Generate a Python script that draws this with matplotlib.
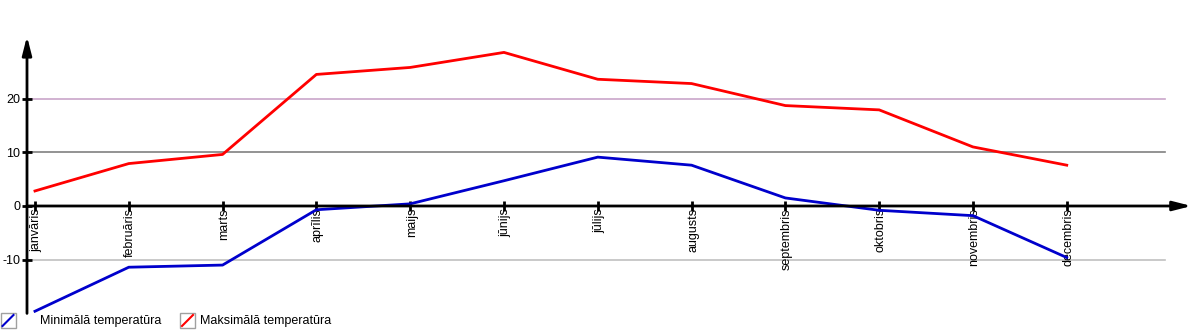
import matplotlib
matplotlib.use('Agg')
import matplotlib.pyplot as plt
import matplotlib.transforms as mtransforms
from matplotlib.patches import Rectangle
from matplotlib.lines import Line2D

plt.rcParams['font.family'] = ['Liberation Sans', 'DejaVu Sans']

months = ["janvāris", "februāris", "marts", "aprīlis", "maijs", "jūnijs",
          "jūlijs", "augusts", "septembris", "oktobris", "novembris", "decembris"]
min_temp = [-19.6, -11.4, -11.0, -0.7, 0.4, 4.7, 9.1, 7.6, 1.5, -0.8, -1.8, -9.6]
max_temp = [2.8, 7.9, 9.6, 24.5, 25.8, 28.6, 23.6, 22.8, 18.7, 17.9, 11.0, 7.6]
y_ticks = [-10, 0, 10, 20]
grid_colors = {-10: '#c0c0c0', 10: '#808080', 20: '#c9a6c9'}

W, H = 1200, 330
fig = plt.figure(figsize=(W / 100, H / 100), dpi=100)
# axes box in pixels: y-axis at x=27, arrow tip at x=1191, bottom y=313, top y=36
ax = fig.add_axes([27 / W, (H - 313.4) / H, (1191.5 - 27) / W, (313.4 - 36.3) / H])
x = list(range(len(months)))
x_left, x_right = -0.085, 12.33
y_bottom, y_top = -20, 31.6
ax.set_xlim(x_left, x_right)
ax.set_ylim(y_bottom, y_top)

for s in ax.spines.values():
    s.set_visible(False)
ax.spines['bottom'].set_position(('data', 0))
ax.spines['left'].set_position(('data', x_left))

# horizontal guide lines
for yv, c in grid_colors.items():
    ax.plot([x_left, 12.05], [yv, yv], color=c, lw=1.2, zorder=1)

ax.plot(x, min_temp, color='#0000cc', lw=2, zorder=3, label='Minimālā temperatūra')
ax.plot(x, max_temp, color='#ff0000', lw=2, zorder=3, label='Maksimālā temperatūra')

# axes with arrow heads
arrow = dict(arrowstyle='-|>,head_length=1.1,head_width=0.28', color='black', lw=2,
             shrinkA=0, shrinkB=0)
ax.annotate('', xy=(x_left, y_top), xytext=(x_left, y_bottom), arrowprops=arrow,
            annotation_clip=False, zorder=4)
ax.annotate('', xy=(x_right, 0), xytext=(x_left, 0), arrowprops=arrow,
            annotation_clip=False, zorder=4)

ax.set_xticks(x)
ax.set_xticklabels(months, rotation=90, va='top', ha='center', fontsize=9)
ax.set_yticks(y_ticks)
ax.set_yticklabels([str(v) for v in y_ticks], fontsize=9)
ax.tick_params(axis='x', direction='inout', length=7, width=2, pad=-2)
ax.tick_params(axis='y', direction='inout', length=7, width=2, pad=1.5)
shift = mtransforms.ScaledTranslation(1.5 / 100, 0, fig.dpi_scale_trans)
for lbl in ax.get_xticklabels():
    lbl.set_zorder(5)
    lbl.set_transform(lbl.get_transform() + shift)

# legend at the bottom edge
for (bx, tx, col, txt) in [(0.5, 40, '#0000cc', 'Minimālā temperatūra'),
                           (180, 200, '#ff0000', 'Maksimālā temperatūra')]:
    fig.add_artist(Rectangle((bx / W, (H - 328) / H), 15 / W, 15 / H,
                             transform=fig.transFigure, facecolor='white',
                             edgecolor='#a0a0a0', lw=1))
    fig.add_artist(Line2D([(bx + 2) / W, (bx + 13) / W], [(H - 326) / H, (H - 315) / H],
                          transform=fig.transFigure, color=col, lw=1.5))
    fig.text(tx / W, (H - 321) / H, txt, fontsize=9, va='center', ha='left')

fig.savefig('out.png', dpi=100)
